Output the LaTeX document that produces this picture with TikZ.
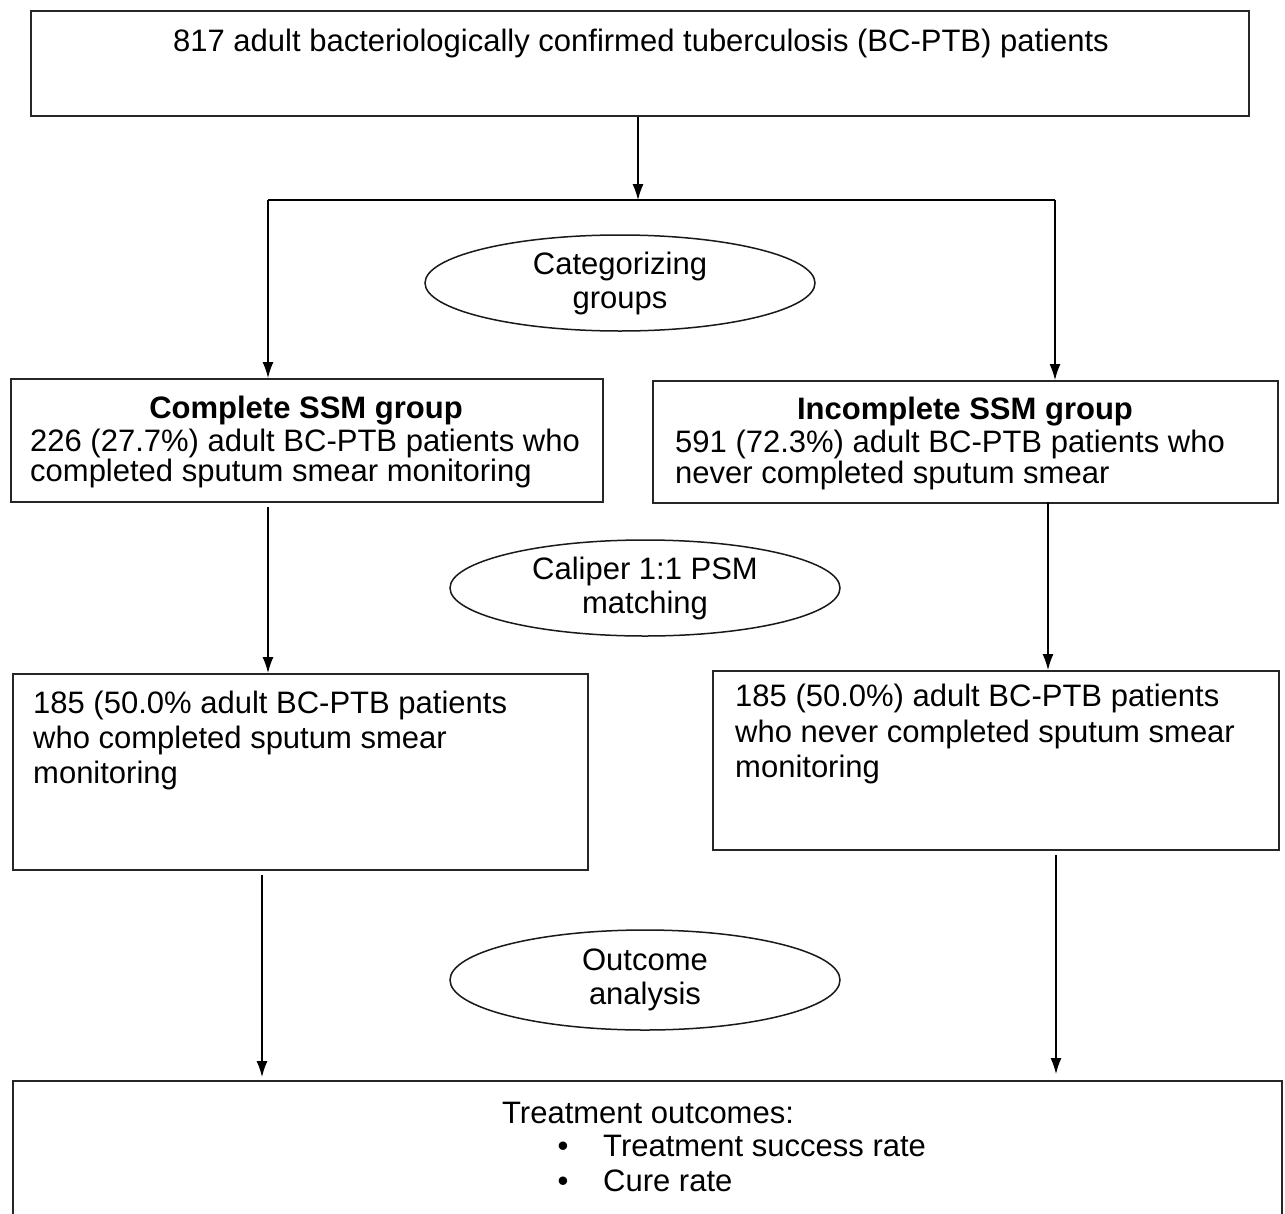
\documentclass[tikz,border=0pt]{standalone}
\usepackage{fontspec}
\setmainfont{Liberation Sans}
\usetikzlibrary{arrows.meta,shapes.geometric}
\begin{document}
\begin{tikzpicture}[x=1pt,y=-1pt,
  box/.style={draw=black!85,line width=1.8pt,rectangle,inner sep=0pt,anchor=north west},
  oval/.style={draw=black!90,line width=1.5pt,ellipse,minimum width=390pt,minimum height=96pt,align=center,font=\fontsize{31}{34}\selectfont,inner sep=0pt},
  txt/.style={anchor=base west,inner sep=0pt,font=\fontsize{31}{35}\selectfont},
  ttl/.style={anchor=base,inner sep=0pt,font=\bfseries\fontsize{31}{35}\selectfont},
  arr/.style={line width=1.3pt,-{Latex[length=16pt,width=11pt]}},
  ln/.style={line width=1.3pt}]
\useasboundingbox (0,0) rectangle (1285,1213);
\fill[white] (0,0) rectangle (1285,1213);

% top box
\node[box,minimum width=1218pt,minimum height=105pt] (top) at (30,10) {};
\node[txt,anchor=base] (toptxt) at (641,51) {817 adult bacteriologically confirmed tuberculosis (BC-PTB) patients};

% split
\coordinate (sp) at (638,200);
\coordinate (spL) at (268,200);
\coordinate (spR) at (1055,200);

% ellipses
\node[oval] (e1) at (620,283) {Categorizing\\groups};
\node[oval] (e2) at (645,588) {Caliper 1:1 PSM\\matching};
\node[oval,minimum height=100pt] (e3) at (645,980) {Outcome\\analysis};

% level 1 boxes
\node[box,minimum width=592pt,minimum height=123pt] (bl1) at (10,378) {};
\node[ttl] (tl1) at (306,418) {Complete SSM group};
\node[txt] (l1a) at (30,451) {226 (27.7\%) adult BC-PTB patients who};
\node[txt] (l1b) at (30,481) {completed sputum smear monitoring};

\node[box,minimum width=625pt,minimum height=122pt] (br1) at (652,380) {};
\node[ttl] (tr1) at (965,419) {Incomplete SSM group};
\node[txt] (r1a) at (675,452) {591 (72.3\%) adult BC-PTB patients who};
\node[txt] (r1b) at (675,483) {never completed sputum smear};

% level 2 boxes
\node[box,minimum width=575pt,minimum height=196pt] (bl2) at (12,673) {};
\node[txt] (l2a) at (33,713) {185 (50.0\% adult BC-PTB patients};
\node[txt] (l2b) at (33,748) {who completed sputum smear};
\node[txt] (l2c) at (33,783) {monitoring};

\node[box,minimum width=566pt,minimum height=179pt] (br2) at (712,670) {};
\node[txt] (r2a) at (735,706) {185 (50.0\%) adult BC-PTB patients};
\node[txt] (r2b) at (735,742) {who never completed sputum smear};
\node[txt] (r2c) at (735,777) {monitoring};

% bottom box
\node[box,minimum width=1269pt,minimum height=160pt] (bot) at (12,1080) {};
\node[txt] (bt) at (502,1123) {Treatment outcomes:};
\node[txt,anchor=base] (bu1) at (563,1156) {\textbullet};
\node[txt] (bi1) at (603,1156) {Treatment success rate};
\node[txt,anchor=base] (bu2) at (563,1191) {\textbullet};
\node[txt] (bi2) at (603,1191) {Cure rate};

% connectors
\draw[arr] (top.south -| sp) -- (sp);
\draw[ln] (spL) -- (spR);
\draw[arr] (spL) -- (spL |- bl1.north);
\draw[arr] (spR) -- (spR |- br1.north);

\coordinate (cL1) at (268,507);
\coordinate (cR1) at (1048,502);
\draw[arr] (cL1) -- (cL1 |- bl2.north);
\draw[arr] (cR1) -- (cR1 |- br2.north);

\coordinate (cL2) at (262,875);
\coordinate (cR2) at (1056,855);
\draw[arr,shorten >=3pt] (cL2) -- (cL2 |- bot.north);
\draw[arr,shorten >=6pt] (cR2) -- (cR2 |- bot.north);
\end{tikzpicture}
\end{document}
